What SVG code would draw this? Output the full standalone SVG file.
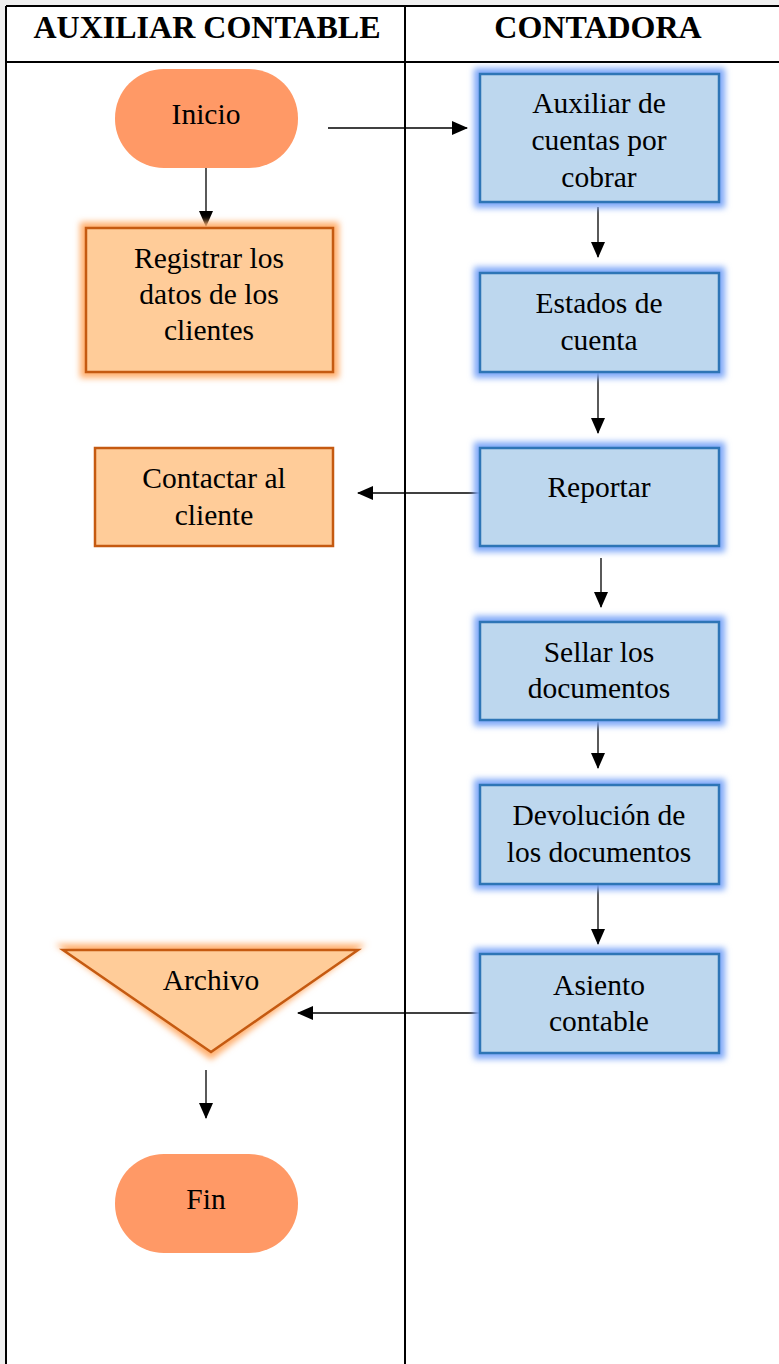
<svg xmlns="http://www.w3.org/2000/svg" width="779" height="1364" viewBox="0 0 779 1364">
<defs>
<style>
.t{font-family:'Liberation Serif',serif;font-size:29.5px;fill:#000;text-anchor:middle}
.h{font-family:'Liberation Serif',serif;font-size:32px;font-weight:bold;fill:#000;text-anchor:middle}
.term{fill:#FF9966}
.ob{fill:#FFCC99;stroke:#C55A11;stroke-width:2.5}
.bb{fill:#BDD7EE;stroke:#2E75B6;stroke-width:2.5}
.og{fill:#FFB070;filter:url(#glow)}
.bg{fill:#7FA8F8;filter:url(#glow)}
.c{stroke:#000;stroke-width:1.3;fill:none;marker-end:url(#ah)}
.grid{stroke:#000;stroke-width:2;fill:none}
</style>
<filter id="glow" x="-20%" y="-20%" width="140%" height="140%">
<feGaussianBlur stdDeviation="3"/>
</filter>
<marker id="ah" markerWidth="16" markerHeight="14" refX="15" refY="7" orient="auto" markerUnits="userSpaceOnUse" viewBox="0 0 16 14">
<path d="M0,0 L16,7 L0,14 z" fill="#000"/>
</marker>
</defs>
<rect x="0" y="0" width="779" height="1364" fill="#F0F0F0"/>
<rect x="6" y="6" width="773" height="1358" fill="#FFFFFF"/>
<g id="table">
<line class="grid" x1="6" y1="6" x2="779" y2="6"/>
<line class="grid" x1="6" y1="62" x2="779" y2="62"/>
<line class="grid" x1="6" y1="6" x2="6" y2="1364"/>
<line class="grid" x1="405" y1="6" x2="405" y2="1364"/>
<text class="h" x="207" y="38">AUXILIAR CONTABLE</text>
<text class="h" x="598" y="38">CONTADORA</text>
</g>
<g id="connectors">
<line class="c" x1="328" y1="128" x2="467" y2="128"/>
<line class="c" x1="206" y1="168" x2="206" y2="226"/>
<line class="c" x1="598" y1="207" x2="598" y2="257"/>
<line class="c" x1="598" y1="372" x2="598" y2="433"/>
<line class="c" x1="480" y1="493" x2="358" y2="493"/>
<line class="c" x1="601" y1="558" x2="601" y2="607"/>
<line class="c" x1="598" y1="722" x2="598" y2="768"/>
<line class="c" x1="598" y1="884" x2="598" y2="944"/>
<line class="c" x1="480" y1="1013" x2="298" y2="1013"/>
<line class="c" x1="206" y1="1070" x2="206" y2="1118"/>
</g>
<g id="inicio">
<rect class="term" x="115" y="69" width="183" height="99" rx="49" ry="49"/>
<text class="t" x="206" y="124">Inicio</text>
</g>
<g id="registrar">
<rect class="og" x="80" y="222" width="259" height="156"/>
<rect class="ob" x="86" y="228" width="247" height="144"/>
<text class="t" x="209" y="268">Registrar los</text>
<text class="t" x="209" y="304">datos de los</text>
<text class="t" x="209" y="340">clientes</text>
</g>
<g id="contactar">
<rect class="ob" x="95" y="448" width="238" height="98"/>
<text class="t" x="214" y="488">Contactar al</text>
<text class="t" x="214" y="525">cliente</text>
</g>
<g id="archivo">
<polygon class="og" points="55,944 366,944 211,1060"/>
<polygon class="ob" points="63,950 358,950 211,1052"/>
<text class="t" x="211" y="990">Archivo</text>
</g>
<g id="fin">
<rect class="term" x="115" y="1154" width="183" height="99" rx="49" ry="49"/>
<text class="t" x="206" y="1209">Fin</text>
</g>
<g id="auxiliar">
<rect class="bg" x="474" y="68" width="251" height="140"/>
<rect class="bb" x="480" y="74" width="239" height="128"/>
<text class="t" x="599" y="113">Auxiliar de</text>
<text class="t" x="599" y="150">cuentas por</text>
<text class="t" x="599" y="187">cobrar</text>
</g>
<g id="estados">
<rect class="bg" x="474" y="267" width="251" height="111"/>
<rect class="bb" x="480" y="273" width="239" height="99"/>
<text class="t" x="599" y="313">Estados de</text>
<text class="t" x="599" y="350">cuenta</text>
</g>
<g id="reportar">
<rect class="bg" x="474" y="442" width="251" height="110"/>
<rect class="bb" x="480" y="448" width="239" height="98"/>
<text class="t" x="599" y="497">Reportar</text>
</g>
<g id="sellar">
<rect class="bg" x="474" y="616" width="251" height="110"/>
<rect class="bb" x="480" y="622" width="239" height="98"/>
<text class="t" x="599" y="662">Sellar los</text>
<text class="t" x="599" y="698">documentos</text>
</g>
<g id="devolucion">
<rect class="bg" x="474" y="779" width="251" height="111"/>
<rect class="bb" x="480" y="785" width="239" height="99"/>
<text class="t" x="599" y="825">Devolución de</text>
<text class="t" x="599" y="862">los documentos</text>
</g>
<g id="asiento">
<rect class="bg" x="474" y="948" width="251" height="111"/>
<rect class="bb" x="480" y="954" width="239" height="99"/>
<text class="t" x="599" y="995">Asiento</text>
<text class="t" x="599" y="1031">contable</text>
</g>
</svg>
